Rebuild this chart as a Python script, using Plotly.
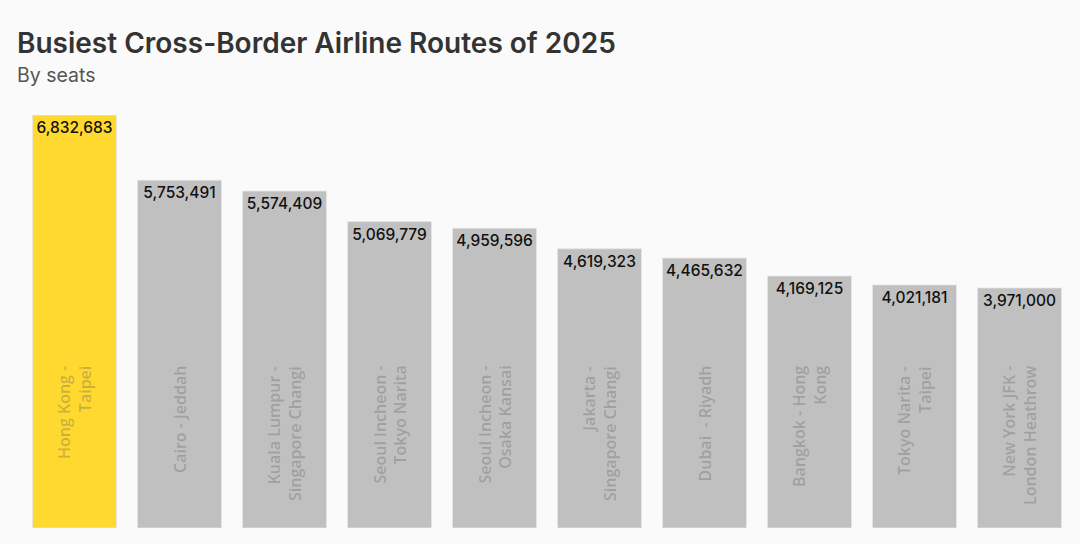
import plotly.graph_objects as go

routes = ["Hong Kong -<br>Taipei", "Cairo - Jeddah", "Kuala Lumpur -<br>Singapore Changi",
          "Seoul Incheon -<br>Tokyo Narita", "Seoul Incheon -<br>Osaka Kansai",
          "Jakarta -<br>Singapore Changi", "Dubai  - Riyadh", "Bangkok - Hong<br>Kong",
          "Tokyo Narita -<br>Taipei", "New York JFK -<br>London Heathrow"]
seats = [6832683, 5753491, 5574409, 5069779, 4959596, 4619323, 4465632, 4169125, 4021181, 3971000]
bar_colors = ["#FFD92F"] + ["#C0C0C0"] * 9

x_idx = list(range(len(routes)))

def py(p):
    return (528 - p) / 413

def px(p):
    return (p - 22) / 1050

fig = go.Figure()
fig.add_trace(go.Bar(
    x=x_idx, y=seats,
    marker=dict(color=bar_colors, line=dict(color="rgba(230,230,230,0.8)", width=1)),
    text=[f"{v:,}" for v in seats],
    textposition="inside", insidetextanchor="end", textangle=0,
    insidetextfont=dict(family="Inter", size=15.5, color="#111111", weight=500),
    cliponaxis=False, hoverinfo="skip",
))

for i, r in enumerate(routes):
    fig.add_annotation(x=i, y=py(364), xref="x", yref="paper",
                       text=r, textangle=-90, showarrow=False, align="right",
                       yanchor="top", xanchor="center",
                       font=dict(family="Open Sans", size=16, color="rgba(90,90,90,0.33)", weight=600))

fig.add_annotation(x=px(15), y=py(24), xref="paper", yref="paper",
                   text="Busiest Cross-Border Airline Routes of 2025", showarrow=False,
                   xanchor="left", yanchor="top",
                   font=dict(family="Inter", size=28, color="#333333", weight=600))
fig.add_annotation(x=px(15), y=py(61), xref="paper", yref="paper",
                   text="By seats", showarrow=False, xanchor="left", yanchor="top",
                   font=dict(family="Inter", size=19.5, color="#555555"))

fig.update_layout(
    width=1080, height=544,
    margin=dict(l=22, r=8, t=115, b=16),
    paper_bgcolor="#FAFAFA", plot_bgcolor="#FAFAFA",
    bargap=0.2, showlegend=False,
    xaxis=dict(range=[-0.5, 9.5], showticklabels=False, showgrid=False, zeroline=False, showline=False),
    yaxis=dict(range=[0, 6832683], showticklabels=False, showgrid=False, zeroline=False, showline=False),
)
fig.write_html("out.html")
